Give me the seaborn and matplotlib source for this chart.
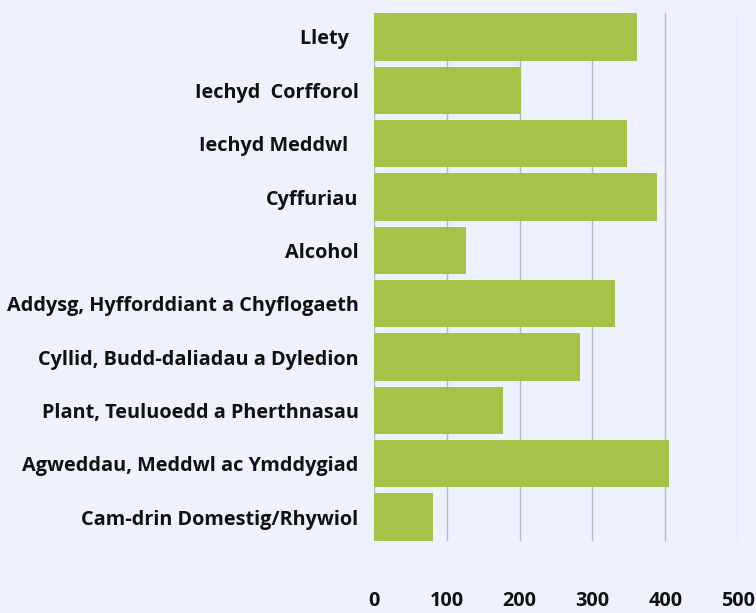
import matplotlib.pyplot as plt
import pandas as pd
import seaborn as sns

# data
categories = ['Llety  ', 'Iechyd  Corfforol', 'Iechyd Meddwl  ', 'Cyffuriau', 'Alcohol',
              'Addysg, Hyfforddiant a Chyflogaeth', 'Cyllid, Budd-daliadau a Dyledion',
              'Plant, Teuluoedd a Pherthnasau', 'Agweddau, Meddwl ac Ymddygiad',
              'Cam-drin Domestig/Rhywiol']
values = [361, 202, 347, 389, 126, 331, 283, 177, 405, 81]
xticks = [0, 100, 200, 300, 400, 500]

df = pd.DataFrame({'category': categories, 'value': values})

bg = '#eef2fe'
sns.set_style('white')
plt.rcParams['font.family'] = ['Open Sans', 'DejaVu Sans']

fig = plt.figure(figsize=(7.56, 6.13), dpi=100, facecolor=bg)
ax = fig.add_axes([0.4947, 0.1174, 0.4815, 0.8614], facecolor=bg)

sns.barplot(data=df, x='value', y='category', orient='h', color='#a5c249',
            saturation=1, width=0.89, linewidth=0, ax=ax, zorder=3)

ax.set_xlim(0, 500)
ax.set_ylim(9.45, -0.45)
ax.set_xticks(xticks)
ax.grid(axis='x', color='#b3b7c4', linewidth=1, zorder=0)
ax.set_axisbelow(True)
for s in ax.spines.values():
    s.set_visible(False)
ax.set_xlabel('')
ax.set_ylabel('')
ax.tick_params(axis='both', length=0, labelsize=14.3)
ax.tick_params(axis='x', pad=36)
ax.tick_params(axis='y', pad=11)
for t in ax.get_xticklabels() + ax.get_yticklabels():
    t.set_fontweight('bold')
    t.set_color('#111111')

fig.savefig('out.png', dpi=100, facecolor=bg)
